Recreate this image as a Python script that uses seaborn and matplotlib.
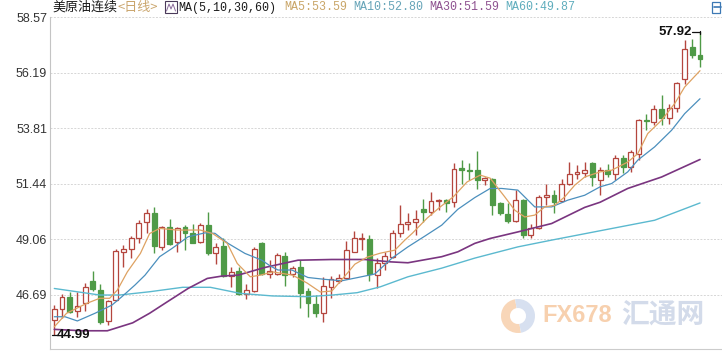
import numpy as np
import pandas as pd
import matplotlib
matplotlib.use("Agg")
import matplotlib.pyplot as plt
from matplotlib import font_manager
from matplotlib.patches import Rectangle, Wedge
from matplotlib.lines import Line2D
from matplotlib.transforms import IdentityTransform
import seaborn as sns

# ---------------- data ----------------
opens = [45.62, 46.08, 46.61, 46.01, 46.32, 47.29, 46.89, 45.57, 46.47, 48.50,
         48.67, 49.13, 49.81, 50.19, 48.74, 49.57, 48.93, 49.57, 49.32, 48.96,
         49.67, 48.49, 48.77, 47.49, 47.72, 46.72, 46.86, 48.89, 47.60, 47.60,
         48.35, 47.60, 47.86, 46.85, 46.29, 45.92, 47.03, 47.27, 47.39, 48.53,
         49.08, 49.06, 47.53, 48.06, 48.32, 49.32, 49.70, 49.82, 50.38, 50.24,
         50.70, 50.74, 50.67, 52.10, 52.05, 52.02, 51.59, 51.63, 50.60, 50.13,
         49.86, 50.74, 49.24, 49.53, 50.88, 50.98, 50.70, 51.41, 51.88, 51.92,
         52.31, 51.59, 52.02, 51.88, 52.56, 52.16, 52.73, 54.19, 54.08, 54.66,
         54.27, 54.70, 55.94, 57.29, 56.93]
highs = [46.25, 46.72, 46.82, 46.82, 47.18, 47.70, 47.15, 46.47, 48.63, 48.81,
         49.20, 49.88, 50.38, 50.45, 49.63, 49.93, 49.60, 49.67, 49.74, 49.77,
         50.24, 48.89, 49.10, 47.89, 47.89, 47.15, 48.72, 48.96, 48.17, 48.49,
         48.50, 47.92, 48.17, 46.96, 46.68, 47.46, 47.49, 47.60, 48.98, 49.43,
         49.32, 49.24, 48.25, 48.53, 49.46, 50.53, 50.17, 50.31, 50.77, 51.10,
         50.81, 50.80, 52.31, 52.45, 52.33, 52.85, 51.73, 51.69, 50.67, 50.62,
         51.17, 50.81, 49.71, 50.95, 51.42, 51.17, 51.66, 52.37, 52.23, 52.37,
         52.37, 52.16, 52.28, 52.66, 52.66, 52.88, 54.23, 54.44, 54.80, 55.22,
         54.84, 55.79, 57.60, 57.65, 57.92]
lows = [44.99, 45.70, 45.90, 45.75, 45.99, 46.86, 45.45, 45.40, 46.42, 47.89,
        48.25, 48.89, 49.32, 48.46, 48.60, 48.81, 48.53, 48.60, 48.89, 48.89,
        48.39, 48.00, 47.46, 47.03, 46.68, 46.50, 46.82, 47.53, 47.40, 47.53,
        47.06, 47.43, 46.14, 45.75, 45.75, 45.54, 46.54, 47.18, 47.35, 48.53,
        48.60, 47.29, 46.96, 47.75, 48.25, 49.17, 49.46, 49.24, 49.81, 50.10,
        50.31, 50.24, 50.43, 51.42, 51.59, 51.20, 51.38, 50.10, 50.10, 49.77,
        49.81, 49.14, 49.14, 49.49, 50.53, 50.17, 50.67, 51.38, 51.66, 51.71,
        51.34, 50.95, 51.73, 51.59, 51.90, 51.95, 52.45, 53.73, 53.94, 53.94,
        54.01, 54.51, 55.72, 56.84, 56.43]
closes = [46.07, 46.61, 45.97, 46.22, 47.03, 46.92, 45.51, 46.42, 48.56, 48.67,
          49.14, 49.77, 50.17, 48.76, 49.57, 48.86, 49.53, 49.32, 48.92, 49.67,
          48.49, 48.72, 47.49, 47.67, 46.72, 46.89, 48.67, 47.60, 47.70, 48.38,
          47.53, 47.82, 46.78, 46.32, 45.90, 47.06, 47.35, 47.39, 48.60, 49.14,
          49.12, 47.60, 48.06, 48.35, 49.32, 49.70, 49.81, 49.93, 50.24, 50.70,
          50.74, 50.60, 52.09, 52.02, 51.99, 51.59, 51.67, 50.52, 50.17, 49.86,
          50.74, 49.24, 49.56, 50.88, 50.98, 50.67, 51.41, 51.88, 51.95, 52.02,
          51.73, 52.02, 51.85, 52.56, 52.16, 52.80, 54.19, 54.12, 54.66, 54.27,
          54.70, 55.75, 57.22, 56.93, 56.79]

# moving-average lines (x = candle index)
ma5_x = [0, 1.6, 4.2, 5.9, 7.2, 8.2, 9.5, 11.2, 12.4, 13.7, 16.0, 19.0, 20.6, 22.5, 23.8,
         25.5, 26.8, 28.4, 31.0, 32.9, 34.6, 36.1, 37.8, 39.1, 40.7, 42.4, 44.3, 45.6, 46.6,
         48.5, 50.2, 51.9, 53.7, 55.4, 56.7, 58.6, 59.9, 61.2, 62.5, 63.8, 65.1, 66.4, 67.7,
         69.0, 71.0, 72.5, 74.6, 75.9, 77.2, 79.0, 80.7, 82.0, 84.0]
ma5_y = [45.32, 45.90, 46.32, 46.54, 46.54, 46.89, 47.67, 48.46, 49.31, 49.53, 49.46, 49.46,
         49.31, 48.89, 48.03, 47.46, 47.53, 47.67, 47.53, 47.19, 46.81, 46.85, 47.49, 48.00,
         48.30, 48.47, 48.60, 49.03, 49.33, 49.97, 50.45, 50.88, 51.52, 51.81, 51.68, 50.88,
         50.31, 50.02, 50.10, 50.45, 50.52, 50.88, 51.38, 51.73, 51.95, 52.02, 52.37, 52.73,
         53.59, 54.16, 54.87, 55.58, 56.28]
ma10_x = [0, 1.4, 3.0, 5.3, 7.5, 8.8, 10.5, 11.8, 13.7, 15.3, 17.4, 19.6, 20.9, 22.6, 24.8,
          27.0, 28.1, 29.1, 30.9, 33.0, 35.2, 37.4, 39.5, 41.7, 43.9, 46.0, 48.2, 50.4, 52.5,
          54.7, 56.7, 58.2, 60.3, 62.5, 64.7, 66.8, 69.0, 71.0, 72.5, 74.6, 75.9, 78.1, 80.3,
          82.0, 84.0]
ma10_y = [45.75, 45.75, 45.57, 45.90, 46.25, 46.61, 47.11, 47.53, 48.32, 48.67, 49.17, 49.34,
          49.32, 48.89, 48.46, 48.17, 47.92, 47.75, 47.75, 47.43, 47.35, 47.29, 47.43, 47.58,
          48.25, 48.74, 49.20, 49.67, 50.35, 50.85, 51.24, 51.24, 51.17, 50.45, 50.45, 50.74,
          50.95, 51.31, 51.45, 51.95, 52.45, 53.02, 53.73, 54.44, 55.08]
ma30_x = [0, 3.7, 6.9, 10.2, 12.4, 14.7, 17.4, 19.9, 21.8, 23.9, 27.4, 31.7, 36.1, 40.4,
          43.7, 46.0, 50.4, 52.5, 54.7, 56.7, 60.3, 64.7, 69.0, 71.0, 74.6, 79.0, 84.0]
ma30_y = [45.21, 45.15, 45.15, 45.49, 45.90, 46.39, 46.96, 47.39, 47.49, 47.53, 47.86, 48.17,
          48.20, 48.20, 48.10, 48.06, 48.32, 48.53, 48.89, 49.10, 49.38, 49.74, 50.43, 50.65,
          51.24, 51.73, 52.48]
ma60_x = [0, 5.9, 8.5, 12.4, 16.7, 20.3, 24.2, 28.4, 32.9, 36.2, 39.4, 42.4, 46.0, 50.4,
          54.7, 60.3, 64.7, 71.0, 78.1, 84.0]
ma60_y = [46.96, 46.68, 46.68, 46.82, 47.01, 47.01, 46.75, 46.64, 46.61, 46.68, 46.78, 47.03,
          47.46, 47.83, 48.26, 48.74, 49.03, 49.43, 49.88, 50.62]

ytick_vals = [58.57, 56.19, 53.81, 51.44, 49.06, 46.69]
ytick_labels = ["58.57", "56.19", "53.81", "51.44", "49.06", "46.69"]

title_main = "美原油连续"
title_period = "<日线>"
title_ma = "MA(5,10,30,60)"
ma_labels = ["MA5:53.59", "MA10:52.80", "MA30:51.59", "MA60:49.87"]
hi_label = "57.92"
lo_label = "44.99"
wm_latin = "FX678"
wm_cjk = "汇通网"

# ---------------- styling ----------------
sns.set_theme(style="white")
plt.rcParams['font.family'] = ['Liberation Sans', 'DejaVu Sans']
plt.rcParams['axes.unicode_minus'] = False

installed = {f.name for f in font_manager.fontManager.ttflist}
narrow = 'Liberation Sans Narrow' if 'Liberation Sans Narrow' in installed else 'Liberation Sans'
CJK = ['Noto Sans CJK SC', 'DejaVu Sans']
MONO = ['Liberation Mono', 'DejaVu Sans Mono']

W, H = 722, 351
fig = plt.figure(figsize=(W / 100, H / 100), dpi=100)
fig.patch.set_facecolor('white')


def fx(px):
    return px / W


def fy(py):
    return 1 - py / H


ax = fig.add_axes([fx(50), fy(349), fx(722) - fx(50), fy(16.7) - fy(349)])
ax.set_facecolor('white')

UP = '#b4463e'
DOWN = '#4f9a47'
C_MA5 = '#dea262'
C_MA10 = '#4b8fbd'
C_MA30 = '#7a3580'
C_MA60 = '#5bb9cf'

df = pd.DataFrame({'idx': np.arange(len(closes)), 'open': opens, 'high': highs,
                   'low': lows, 'close': closes})
df['up'] = df['close'] >= df['open']
df['bot'] = df[['open', 'close']].min(axis=1)
df['top'] = df[['open', 'close']].max(axis=1)
df['h'] = (df['top'] - df['bot']).clip(lower=0.035)
colors = np.where(df['up'], UP, DOWN)

ax.vlines(df['idx'], df['low'], df['bot'], colors=colors, lw=1.0, zorder=2)
ax.vlines(df['idx'], df['top'], df['high'], colors=colors, lw=1.0, zorder=2)
ax.bar(df['idx'], df['h'], bottom=df['bot'], width=0.64,
       color=np.where(df['up'], 'white', DOWN), edgecolor=colors, linewidth=0.9, zorder=2)

for xs, ys, c, lw in [(ma60_x, ma60_y, C_MA60, 1.0), (ma30_x, ma30_y, C_MA30, 1.2),
                      (ma10_x, ma10_y, C_MA10, 0.9), (ma5_x, ma5_y, C_MA5, 0.9)]:
    sns.lineplot(x=xs, y=ys, ax=ax, color=c, linewidth=lw, estimator=None, sort=False,
                 zorder=3)

# high / low annotations
hi_i = int(np.argmax(highs))
lo_i = int(np.argmin(lows))
ax.plot([hi_i - 1.0, hi_i], [highs[hi_i], highs[hi_i]], color='#111111', lw=0.9, zorder=4)
ax.plot([hi_i, hi_i], [highs[hi_i] - 0.07, highs[hi_i] + 0.07], color='#111111', lw=0.9,
        zorder=4)
ax.text(hi_i - 1.05, highs[hi_i], hi_label, ha='right', va='center', fontsize=9.5,
        fontweight='bold', color='#111111', zorder=5)
ax.plot([lo_i - 0.3, lo_i + 0.35], [lows[lo_i], lows[lo_i]], color='#111111', lw=0.9, zorder=4)
ax.text(lo_i + 0.38, lows[lo_i], lo_label, ha='left', va='center', fontsize=9.5,
        fontweight='bold', color='#111111', zorder=5)

ax.set_xlim(-0.56, 86.86)
ax.set_ylim(44.37, 58.59)
ax.set_xticks([])
ax.set_yticks(ytick_vals)
ax.set_yticklabels(ytick_labels)
ax.tick_params(axis='y', length=0, pad=2, labelsize=9, labelcolor='#333333')
ax.grid(axis='y', color='#d6d6d6', linestyle=(0, (2, 1.5)), linewidth=0.7, zorder=0)
ax.set_axisbelow(True)
for s in ['top', 'right']:
    ax.spines[s].set_visible(False)
ax.spines['left'].set_color('#c4c4c4')
ax.spines['left'].set_linewidth(0.8)
ax.spines['bottom'].set_color('#cccccc')
ax.spines['bottom'].set_linewidth(0.8)
ax.set_xlabel('')
ax.set_ylabel('')

# ---------------- header ----------------
yc = fy(7.5)
fig.text(fx(52), yc, title_main, fontsize=9.4, family=CJK, color='#1a1a1a', va='center')
fig.text(fx(117), yc, title_period, fontsize=9.4, family=CJK, color='#caa56c', va='center')
fig.patches.append(Rectangle((fx(165), fy(13)), fx(12), 12 / H, transform=fig.transFigure,
                             fill=False, edgecolor='#4a3a5a', linewidth=0.8))
fig.lines.append(Line2D([fx(166.5), fx(169), fx(171), fx(173), fx(175.5)],
                        [fy(11), fy(4), fy(9), fy(4), fy(11)], transform=fig.transFigure,
                        color='#8a6a9a', lw=0.7))
fig.text(fx(178), yc, title_ma, fontsize=8.4, family=MONO, color='#1a1a1a', va='center')
ma_cols = ['#c9a567', '#66a4b8', '#8e5290', '#5fadbd']
ma_xs = [284, 353, 429, 505]
for lab, c, xp in zip(ma_labels, ma_cols, ma_xs):
    fig.text(fx(xp), yc, lab, fontsize=8.4, family=MONO, color=c, va='center')

# exit icon at top-right
fig.patches.append(Rectangle((fx(711.5), fy(12.5)), fx(8), 10.5 / H, transform=fig.transFigure,
                             fill=False, edgecolor='#3c78b4', linewidth=0.9))
fig.lines.append(Line2D([fx(714), fx(720.5)], [fy(7.2), fy(7.2)], transform=fig.transFigure,
                        color='#3c78b4', lw=1.2))

# ---------------- watermark ----------------
ident = IdentityTransform()
cxy = (518, H - 316)
fig.patches.append(Wedge(cxy, 17, 100, 280, transform=ident, facecolor='#f8d6b8',
                         edgecolor='none'))
fig.patches.append(Wedge(cxy, 17, 280, 100, transform=ident, facecolor='#d7e0f0',
                         edgecolor='none'))
fig.patches.append(Wedge(cxy, 8, 0, 360, transform=ident, facecolor='white',
                         edgecolor='none'))
fig.text(fx(542), fy(316), wm_latin, fontsize=17, family=[narrow, 'DejaVu Sans'],
         fontweight='bold', color='#f7d0ae', va='center', ha='left')
fig.text(fx(621), fy(316), wm_cjk, fontsize=20, family=CJK, fontweight='bold',
         color='#d3dbea', va='center', ha='left')

fig.savefig('out.png', dpi=100, facecolor='white')
